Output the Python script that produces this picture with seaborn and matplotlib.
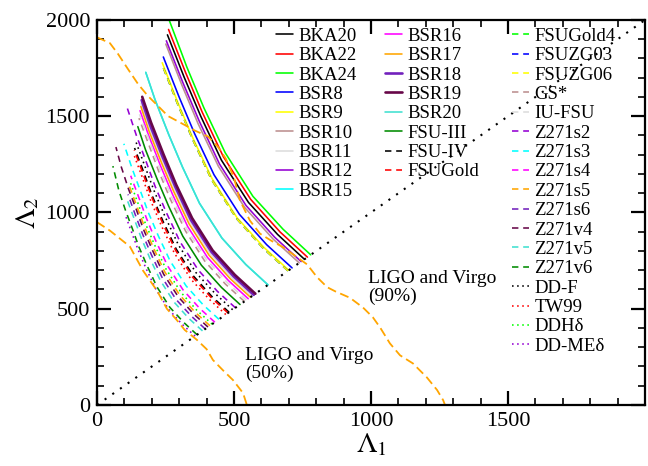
import numpy as np
import pandas as pd
import matplotlib
matplotlib.use("Agg")
import matplotlib.pyplot as plt
from matplotlib.ticker import MultipleLocator
import seaborn as sns

# ============================================================
# Data (Lambda_1, Lambda_2)
# ============================================================

# solid curves
bka20_l1 = [757, 659, 553, 454, 379, 318, 257]
bka20_l2 = [757, 886, 1052, 1272, 1499, 1703, 1923]
bka22_l1 = [768, 668, 561, 461, 384, 323, 261]
bka22_l2 = [768, 899, 1068, 1290, 1521, 1728, 1951]
bka24_l1 = [780, 679, 569, 468, 390, 328, 262]
bka24_l2 = [780, 913, 1084, 1310, 1544, 1755, 2005]
bsr8_l1 = [712, 619, 520, 427, 356, 299, 242]
bsr8_l2 = [712, 833, 990, 1196, 1410, 1602, 1808]
bsr9_l1 = [700, 609, 511, 420, 350, 294, 238]
bsr9_l2 = [700, 819, 973, 1176, 1386, 1575, 1778]
bsr10_l1 = [738, 642, 539, 443, 369, 310, 251]
bsr10_l2 = [738, 863, 1026, 1240, 1461, 1661, 1875]
bsr11_l1 = [566, 492, 413, 340, 283, 238, 192, 161]
bsr11_l2 = [566, 662, 787, 951, 1121, 1274, 1438, 1568]
bsr12_l1 = [745, 648, 544, 447, 373, 313, 253]
bsr12_l2 = [745, 872, 1036, 1252, 1475, 1676, 1892]
bsr15_l1 = [624, 543, 456, 374, 312, 262, 212, 178]
bsr15_l2 = [624, 730, 867, 1048, 1236, 1404, 1585, 1728]
bsr16_l1 = [552, 480, 403, 331, 276, 232, 188, 157]
bsr16_l2 = [552, 646, 767, 927, 1093, 1242, 1402, 1529]
bsr17_l1 = [560, 487, 409, 336, 280, 235, 190, 160]
bsr17_l2 = [560, 655, 778, 941, 1109, 1260, 1422, 1551]
bsr18_l1 = [572, 498, 418, 343, 286, 240, 194, 163]
bsr18_l2 = [572, 669, 795, 961, 1133, 1287, 1453, 1584]
bsr19_l1 = [578, 503, 422, 347, 289, 243, 197, 165]
bsr19_l2 = [578, 676, 803, 971, 1144, 1301, 1468, 1601]
bsr20_l1 = [624, 543, 456, 374, 312, 262, 212, 178]
bsr20_l2 = [624, 730, 867, 1048, 1236, 1404, 1585, 1728]
fsu3_l1 = [522, 454, 381, 313, 261, 219, 177, 149]
fsu3_l2 = [522, 611, 726, 877, 1034, 1175, 1326, 1446]

# dashed curves
fsu4_l1 = [482, 419, 352, 289, 241, 202, 169, 137]
fsu4_l2 = [482, 564, 670, 810, 954, 1085, 1215, 1335]
fsugold_l1 = [478, 416, 349, 287, 239, 201, 167, 136]
fsugold_l2 = [478, 559, 664, 803, 946, 1076, 1205, 1324]
fsugold4_l1 = [697, 606, 509, 418, 349, 293, 237]
fsugold4_l2 = [697, 815, 969, 1171, 1380, 1568, 1770]
fsuzg03_l1 = [697, 606, 509, 418, 349, 293, 237]
fsuzg03_l2 = [697, 815, 969, 1171, 1380, 1568, 1770]
fsuzg06_l1 = [697, 606, 509, 418, 349, 293, 237]
fsuzg06_l2 = [697, 815, 969, 1171, 1380, 1568, 1770]
gs_l1 = [538, 468, 393, 323, 269, 226, 188, 153]
gs_l2 = [538, 629, 748, 904, 1065, 1211, 1356, 1490]
iufsu_l1 = [545, 474, 398, 327, 273, 229, 191, 155]
iufsu_l2 = [545, 638, 758, 916, 1079, 1226, 1373, 1510]
z271s2_l1 = [505, 439, 369, 303, 253, 212, 177, 144, 111]
z271s2_l2 = [505, 591, 702, 848, 1000, 1136, 1273, 1399, 1540]
z271s3_l1 = [445, 387, 325, 267, 223, 187, 156, 127, 98]
z271s3_l2 = [445, 521, 619, 748, 881, 1001, 1121, 1233, 1357]
z271s4_l1 = [430, 374, 314, 258, 215, 181, 151, 123]
z271s4_l2 = [430, 503, 598, 722, 851, 968, 1084, 1191]
z271s5_l1 = [412, 358, 301, 247, 206, 173, 144, 117]
z271s5_l2 = [412, 482, 573, 692, 816, 927, 1038, 1141]
z271s6_l1 = [395, 344, 288, 237, 198, 166, 138, 113]
z271s6_l2 = [395, 462, 549, 664, 782, 889, 995, 1094]
z271v4_l1 = [405, 352, 296, 243, 203, 170, 142, 115, 89, 69]
z271v4_l2 = [405, 474, 563, 680, 802, 911, 1021, 1122, 1235, 1340]
z271v5_l1 = [385, 335, 281, 231, 193, 162, 135, 110]
z271v5_l2 = [385, 450, 535, 647, 762, 866, 970, 1066]
z271v6_l1 = [365, 318, 266, 219, 183, 153, 128, 104, 80, 58]
z271v6_l2 = [365, 427, 507, 613, 723, 821, 920, 1011, 1113, 1241]

# dotted curves
ddf_l1 = [495, 431, 361, 297, 248, 208, 173, 141]
ddf_l2 = [495, 579, 688, 832, 980, 1114, 1247, 1371]
tw99_l1 = [470, 409, 343, 282, 235, 197, 165, 134]
tw99_l2 = [470, 550, 653, 790, 931, 1058, 1184, 1302]
ddhd_l1 = [420, 365, 307, 252, 210, 176, 147, 120]
ddhd_l2 = [420, 491, 584, 706, 832, 945, 1058, 1163]
ddmed_l1 = [358, 311, 261, 215, 179, 150, 125, 102]
ddmed_l2 = [358, 419, 498, 601, 709, 806, 902, 992]

# LIGO/Virgo GW170817 contours
ligo90_l1 = [0, 47, 77, 113, 150, 186, 223, 259, 300, 358, 405, 442, 470, 500,
             522, 558, 595, 640, 679, 730, 767, 803, 840, 870, 923, 971, 1007,
             1033, 1069, 1106, 1153, 1204, 1241, 1263, 1270]
ligo90_l2 = [1910, 1880, 1823, 1745, 1667, 1605, 1553, 1501, 1470, 1425, 1395,
             1340, 1280, 1180, 1062, 958, 890, 850, 820, 768, 730, 664, 612,
             590, 557, 506, 455, 403, 320, 258, 216, 143, 78, 26, 0]
ligo50_l1 = [0, 47, 120, 168, 219, 255, 292, 320, 365, 400, 423, 460, 496, 533, 547]
ligo50_l2 = [950, 906, 823, 698, 594, 500, 440, 390, 338, 290, 234, 180, 130, 62, 0]

# legend columns
col1 = ["BKA20", "BKA22", "BKA24", "BSR8", "BSR9", "BSR10", "BSR11", "BSR12", "BSR15"]
col2 = ["BSR16", "BSR17", "BSR18", "BSR19", "BSR20", "FSU-III", "FSU-IV", "FSUGold"]
col3 = ["FSUGold4", "FSUZG03", "FSUZG06", "GS*", "IU-FSU", "Z271s2", "Z271s3",
        "Z271s4", "Z271s5", "Z271s6", "Z271v4", "Z271v5", "Z271v6",
        "DD-F", "TW99", "DDHδ", "DD-MEδ"]

# grace-like palette
black, red, green, blue, yellow = "#000000", "#ff0000", "#00ff00", "#0000ff", "#ffff00"
brown, grey, violet, cyan, magenta = "#bc8f8f", "#dcdcdc", "#9400d3", "#00ffff", "#ff00ff"
orange, indigo, maroon, turq, green4 = "#ffa500", "#7221bc", "#670748", "#40e0d0", "#008b00"

SOLID, DASH, DOT = "-", (0, (4, 3)), (0, (1, 2.2))

curves = {
    "BKA20": (bka20_l1, bka20_l2, black, SOLID),
    "BKA22": (bka22_l1, bka22_l2, red, SOLID),
    "BKA24": (bka24_l1, bka24_l2, green, SOLID),
    "BSR8": (bsr8_l1, bsr8_l2, blue, SOLID),
    "BSR9": (bsr9_l1, bsr9_l2, yellow, SOLID),
    "BSR10": (bsr10_l1, bsr10_l2, brown, SOLID),
    "BSR11": (bsr11_l1, bsr11_l2, grey, SOLID),
    "BSR12": (bsr12_l1, bsr12_l2, violet, SOLID),
    "BSR15": (bsr15_l1, bsr15_l2, cyan, SOLID),
    "BSR16": (bsr16_l1, bsr16_l2, magenta, SOLID),
    "BSR17": (bsr17_l1, bsr17_l2, orange, SOLID),
    "BSR18": (bsr18_l1, bsr18_l2, indigo, SOLID),
    "BSR19": (bsr19_l1, bsr19_l2, maroon, SOLID),
    "BSR20": (bsr20_l1, bsr20_l2, turq, SOLID),
    "FSU-III": (fsu3_l1, fsu3_l2, green4, SOLID),
    "FSU-IV": (fsu4_l1, fsu4_l2, black, DASH),
    "FSUGold": (fsugold_l1, fsugold_l2, red, DASH),
    "FSUGold4": (fsugold4_l1, fsugold4_l2, green, DASH),
    "FSUZG03": (fsuzg03_l1, fsuzg03_l2, blue, DASH),
    "FSUZG06": (fsuzg06_l1, fsuzg06_l2, yellow, DASH),
    "GS*": (gs_l1, gs_l2, brown, DASH),
    "IU-FSU": (iufsu_l1, iufsu_l2, grey, DASH),
    "Z271s2": (z271s2_l1, z271s2_l2, violet, DASH),
    "Z271s3": (z271s3_l1, z271s3_l2, cyan, DASH),
    "Z271s4": (z271s4_l1, z271s4_l2, magenta, DASH),
    "Z271s5": (z271s5_l1, z271s5_l2, orange, DASH),
    "Z271s6": (z271s6_l1, z271s6_l2, indigo, DASH),
    "Z271v4": (z271v4_l1, z271v4_l2, maroon, DASH),
    "Z271v5": (z271v5_l1, z271v5_l2, turq, DASH),
    "Z271v6": (z271v6_l1, z271v6_l2, green4, DASH),
    "DD-F": (ddf_l1, ddf_l2, black, DOT),
    "TW99": (tw99_l1, tw99_l2, red, DOT),
    "DDHδ": (ddhd_l1, ddhd_l2, green, DOT),
    "DD-MEδ": (ddmed_l1, ddmed_l2, violet, DOT),
}

# ============================================================
# Plot
# ============================================================

sns.set_style("ticks")
plt.rcParams["font.family"] = ["Liberation Serif", "DejaVu Serif"]
plt.rcParams["mathtext.fontset"] = "stix"
for key in ("axes.edgecolor", "axes.labelcolor", "text.color", "xtick.color", "ytick.color"):
    plt.rcParams[key] = "black"

fig = plt.figure(figsize=(6.48, 4.66), dpi=100)
ax = fig.add_axes([0.1497, 0.1309, 0.8457, 0.8262])

handles = {}
for name, (l1, l2, color, ls) in curves.items():
    lw = 1.9 if name in ("BSR18", "BSR19") else 1.15
    sns.lineplot(x=l1, y=l2, sort=False, estimator=None, color=color,
                 linestyle=ls, linewidth=lw, ax=ax)
    line = ax.lines[-1]
    line.set_label(name)
    handles[name] = line

# equal-mass line
diag = pd.DataFrame({"l1": [0, 2000], "l2": [0, 2000]})
sns.lineplot(data=diag, x="l1", y="l2", color="black", linestyle=(0, (1, 3.5)),
             linewidth=1.5, ax=ax)

# LIGO and Virgo contours
sns.lineplot(x=ligo90_l1, y=ligo90_l2, sort=False, estimator=None, color=orange,
             linestyle=(0, (5, 2.5)), linewidth=1.3, ax=ax)
sns.lineplot(x=ligo50_l1, y=ligo50_l2, sort=False, estimator=None, color=orange,
             linestyle=(0, (5, 2.5)), linewidth=1.3, ax=ax)

ax.text(990, 700, "LIGO and Virgo\n(90%)", fontsize=14, va="top", linespacing=1.05)
ax.text(540, 300, "LIGO and Virgo\n(50%)", fontsize=14, va="top", linespacing=1.05)

ax.set_xlim(0, 2000)
ax.set_ylim(0, 2000)
ax.set_xticks([0, 500, 1000, 1500])
ax.set_yticks([0, 500, 1000, 1500, 2000])
ax.xaxis.set_minor_locator(MultipleLocator(100))
ax.yaxis.set_minor_locator(MultipleLocator(100))
ax.tick_params(which="both", direction="in", top=True, right=True, labelsize=16, pad=5)
ax.tick_params(which="major", length=10, width=1.6)
ax.tick_params(which="minor", length=5, width=1.2)
for sp in ax.spines.values():
    sp.set_linewidth(1.6)

ax.set_xlabel(r"$\Lambda_1$", fontsize=21, labelpad=0)
ax.set_ylabel(r"$\Lambda_2$", fontsize=21, labelpad=3)

leg_kw = dict(loc="upper left", frameon=False, fontsize=13.5, handlelength=0.9,
              handletextpad=0.3, labelspacing=0.12, borderpad=0, borderaxespad=0)
leg1 = ax.legend(handles=[handles[n] for n in col1], bbox_to_anchor=(0.327, 0.98), **leg_kw)
ax.add_artist(leg1)
leg2 = ax.legend(handles=[handles[n] for n in col2], bbox_to_anchor=(0.526, 0.98), **leg_kw)
ax.add_artist(leg2)
ax.legend(handles=[handles[n] for n in col3], bbox_to_anchor=(0.757, 0.98), **leg_kw)

fig.savefig("out.png", dpi=100)
